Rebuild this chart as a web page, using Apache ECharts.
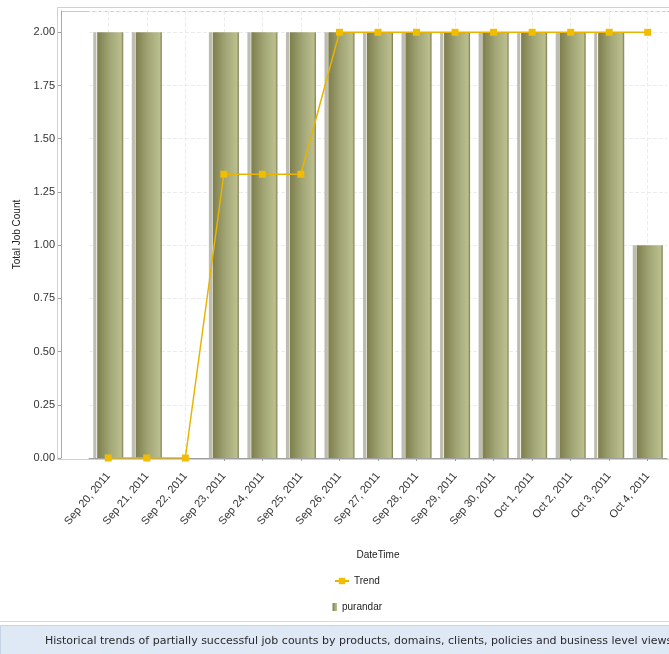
<!DOCTYPE html>
<html>
<head>
<meta charset="utf-8">
<script src="https://cdn.jsdelivr.net/npm/echarts@6/dist/echarts.min.js"></script>
<style>
html,body{margin:0;padding:0;background:#fff;}
#chart{width:669px;height:654px;}
</style>
</head>
<body>
<div id="chart"></div>
<script>
const categories = ['Sep 20, 2011','Sep 21, 2011','Sep 22, 2011','Sep 23, 2011','Sep 24, 2011','Sep 25, 2011','Sep 26, 2011','Sep 27, 2011','Sep 28, 2011','Sep 29, 2011','Sep 30, 2011','Oct 1, 2011','Oct 2, 2011','Oct 3, 2011','Oct 4, 2011'];
const purandarValues = [2, 2, 0, 2, 2, 2, 2, 2, 2, 2, 2, 2, 2, 2, 1];
const trendValues = [0, 0, 0, 1.333, 1.333, 1.333, 2, 2, 2, 2, 2, 2, 2, 2, 2];
const yTicks = {min: 0, max: 2.1, interval: 0.25};
const xAxisName = 'DateTime';
const yAxisName = 'Total Job Count';
const footerText = 'Historical trends of partially successful job counts by products, domains, clients, policies and business level views.';

const FONT = '"Liberation Sans", Arial, sans-serif';
const chart = echarts.init(document.getElementById('chart'), null, {renderer: 'canvas'});

chart.setOption({
  animation: false,
  backgroundColor: '#ffffff',
  textStyle: {fontFamily: FONT},
  grid: {left: 89, right: 2, top: 11, bottom: 196, containLabel: false},
  legend: [
    {
      data: ['Trend'], left: 329, top: 571, orient: 'vertical',
      itemWidth: 14, itemHeight: 8, itemGap: 4,
      textStyle: {fontSize: 10, color: '#222', fontFamily: FONT}
    },
    {
      data: [{name: 'purandar', icon: 'rect'}], left: 327, top: 597, orient: 'vertical',
      itemWidth: 5, itemHeight: 8,
      textStyle: {fontSize: 10, color: '#222', fontFamily: FONT}
    }
  ],
  xAxis: {
    type: 'category',
    data: categories,
    boundaryGap: true,
    offset: 4,
    name: xAxisName,
    nameLocation: 'middle',
    nameGap: 88,
    nameTextStyle: {fontSize: 10, color: '#222', fontFamily: FONT},
    axisLine: {show: true, lineStyle: {color: '#a0a0a0', width: 1}},
    axisTick: {show: true, alignWithLabel: true, length: 3, lineStyle: {color: '#a0a0a0'}},
    axisLabel: {rotate: 50, fontSize: 11, color: '#333', margin: 12, interval: 0, fontFamily: FONT},
    splitLine: {show: true, alignWithLabel: true, lineStyle: {color: '#ececec', type: 'dashed', width: 1}}
  },
  yAxis: {
    type: 'value',
    min: yTicks.min, max: yTicks.max, interval: yTicks.interval,
    offset: 28,
    name: yAxisName,
    nameLocation: 'middle',
    nameRotate: 90,
    nameGap: 37,
    nameTextStyle: {fontSize: 10, color: '#222', fontFamily: FONT},
    axisLine: {show: true, lineStyle: {color: '#a8a8a8', width: 1}},
    axisTick: {show: true, length: 3, lineStyle: {color: '#a0a0a0'}},
    axisLabel: {
      fontSize: 11, color: '#333', margin: 6, showMaxLabel: false, fontFamily: FONT,
      formatter: v => v.toFixed(2)
    },
    splitLine: {show: true, lineStyle: {color: '#ececec', type: 'dashed', width: 1}}
  },
  graphic: [
    {type: 'rect', silent: true, z: -1,
      shape: {x: 57.5, y: 7.5, width: 700, height: 452},
      style: {fill: 'none', stroke: '#d0d0d0', lineWidth: 1}},
    {type: 'line', silent: true,
      shape: {x1: 61, y1: 11.5, x2: 669, y2: 11.5},
      style: {stroke: '#c8c8c8', lineWidth: 1}},
    {type: 'line', silent: true,
      shape: {x1: 0, y1: 621.5, x2: 669, y2: 621.5},
      style: {stroke: '#d8d8d8', lineWidth: 1}},
    {type: 'rect', silent: true,
      shape: {x: 0.5, y: 625.5, width: 680, height: 40},
      style: {fill: '#dfe9f6', stroke: '#c6d4e6', lineWidth: 1}},
    {type: 'text', silent: true, x: 45, y: 641,
      style: {text: footerText, font: '11px "DejaVu Sans", sans-serif', fill: '#2a2a2a', textVerticalAlign: 'middle'}}
  ],
  series: [
    {
      name: 'purandar',
      type: 'bar',
      data: purandarValues,
      barWidth: 30,
      z: 2,
      itemStyle: {
        color: new echarts.graphic.LinearGradient(0, 0, 1, 0, [
          {offset: 0, color: '#bdbdb2'},
          {offset: 0.1, color: '#bdbdb2'},
          {offset: 0.11, color: '#f4f4ee'},
          {offset: 0.15, color: '#80804f'},
          {offset: 0.55, color: '#a2a575'},
          {offset: 0.93, color: '#bbbf8e'},
          {offset: 1, color: '#78784e'}
        ]),
        borderWidth: 0
      }
    },
    {
      name: 'Trend',
      type: 'line',
      data: trendValues,
      z: 5,
      symbol: 'rect',
      symbolSize: 7,
      lineStyle: {color: '#e8b400', width: 1.5},
      itemStyle: {color: '#f0bd00'}
    }
  ]
});
</script>
</body>
</html>
